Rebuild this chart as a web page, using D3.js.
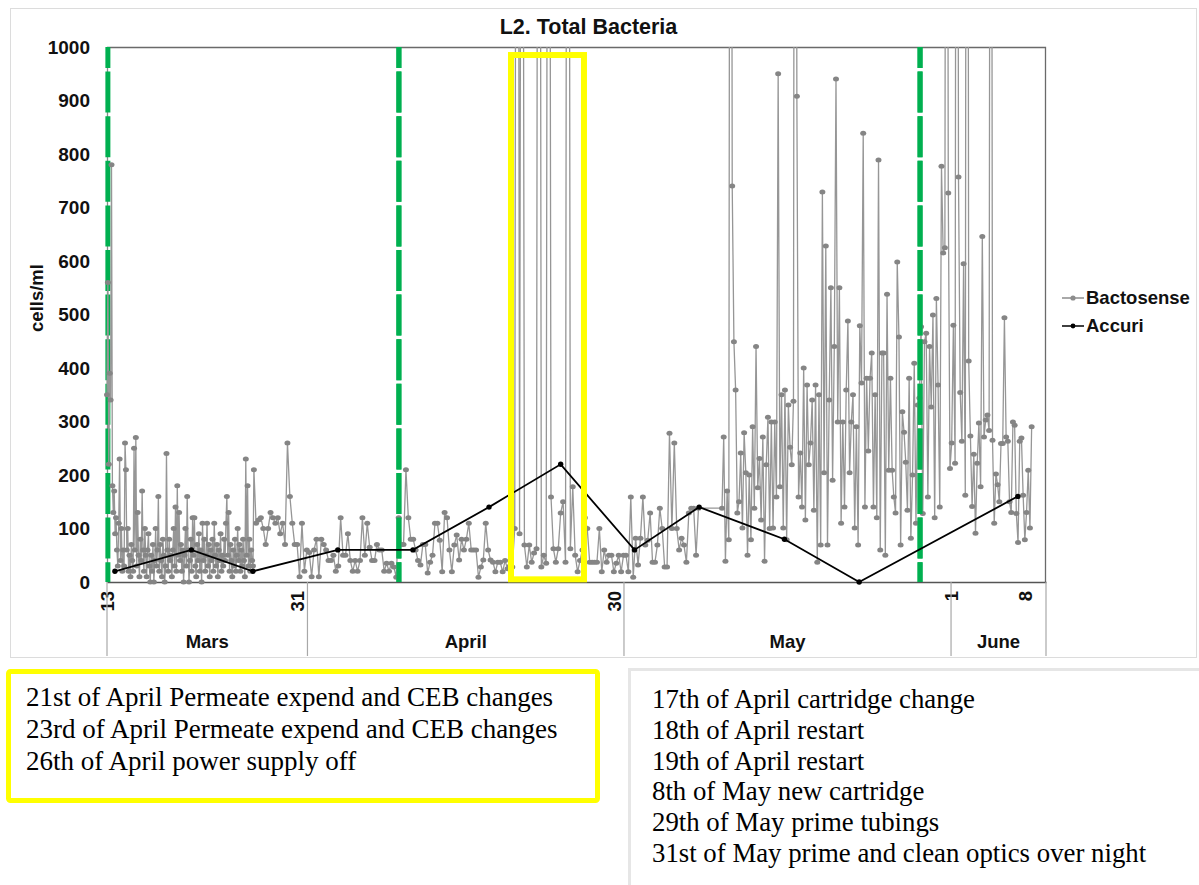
<!DOCTYPE html>
<html>
<head>
<meta charset="utf-8">
<script src="https://cdn.jsdelivr.net/npm/d3@7/dist/d3.min.js"></script>
<style>
  body { margin: 0; background: #ffffff; }
  svg { display: block; }
</style>
</head>
<body>
<svg id="chart" width="1199" height="885"></svg>
<script>
// ---------- data ----------
const chartTitle = "L2. Total Bacteria";
const yAxisTitle = "cells/ml";
const yTicks = [0, 100, 200, 300, 400, 500, 600, 700, 800, 900, 1000];

const axisStart = "2019-03-13T00:00";
const axisEnd = "2019-06-10T00:00";
const dayTickDates = ["2019-03-13T00:00", "2019-03-31T00:00", "2019-04-30T00:00", "2019-06-01T00:00", "2019-06-08T00:00"];
const dayTickLabels = ["13", "31", "30", "1", "8"];
const monthBounds = ["2019-03-13T00:00", "2019-04-01T00:00", "2019-05-01T00:00", "2019-06-01T00:00", "2019-06-10T00:00"];
const monthNames = ["Mars", "April", "May", "June"];

// Bactosense online counts, logged at a fixed interval within each run
const bactoMarchStart = "2019-03-13T00:00";
const bactoMarchStepHours = 2.05;
const bactoMarch = [
  350,560,220,390,340,780,180,130,170,90,
  120,60,30,110,230,40,100,20,60,30,
  260,210,60,100,20,50,10,70,40,20,
  250,60,270,30,130,50,10,80,40,170,
  60,20,100,50,10,60,90,30,0,50,
  20,70,0,40,100,30,60,160,20,70,
  40,10,80,50,0,30,240,60,20,80,
  40,50,10,60,100,30,140,20,180,50,
  130,40,70,20,60,0,50,100,30,160,
  60,0,40,80,20,120,50,120,30,10,
  70,40,90,20,60,0,110,40,80,20,
  50,110,30,70,10,60,40,80,20,110,
  50,30,70,10,60,40,90,20,50,30,
  80,40,110,160,50,130,20,70,40,10,
  60,30,80,20,50,100,40,70,20,60,
  30,80,40,10,230,50,180,30,80,20,
  60,40,30,210
];

const bactoAprilStart = "2019-03-27T03:00";
const bactoAprilStepHours = 5.5;
const bactoApril = [
  110,116,120,100,70,100,130,120,110,120,
  90,110,70,260,160,110,70,70,10,110,
  20,60,55,10,60,80,10,80,70,60,
  40,40,50,20,30,120,50,50,90,40,
  20,40,20,40,120,50,110,65,40,40,
  70,60,60,20,35,20,35,28,9,120,
  70,70,210,120,80,80,60,40,32,70,
  70,17,37,50,110,110,78,19,130,120,
  60,19,69,88,41,80,60,80,110,60,
  60,60,9,28,41,110,60,41,37,19,
  37,37,19,40,25,30,28,100,3200,90,
  2800,69,28,69,37,54,62,3500,28,50,
  35,3000,159,62,37,62,129,150,37,3300,
  62,178,50,19,40,60,120,100,37,37,
  37,37,100,19,60,37,50,50,19,35,
  50,19,50,50,19,159,9,82,32,82,
  159,69,78,129,37,37,69,138,100,28,
  28,278,100,260,100,60,82,69,37,129,
  138,138,50,138
];

const bactoMayStart = "2019-05-10T07:00";
const bactoMayStepHours = 3.87;
const bactoMay = [
  138,271,39,170,79,3000,740,449,359,129,
  150,241,101,279,204,50,200,79,290,138,
  440,176,231,116,271,39,219,308,100,299,
  101,299,159,950,178,350,101,359,79,331,
  252,219,338,3200,908,159,241,140,400,116,
  368,219,260,340,134,368,37,350,69,729,
  204,628,69,340,550,190,440,940,299,550,
  110,299,140,359,488,204,299,350,101,290,
  69,479,372,839,140,381,245,381,428,140,
  350,120,789,60,428,428,50,538,209,381,
  209,159,129,598,458,69,318,280,224,134,
  381,82,200,409,110,331,344,477,128,449,
  465,159,440,327,499,120,530,368,140,777,
  615,625,2900,727,212,260,480,222,3100,757,
  354,263,595,162,3400,413,273,141,239,91,
  222,297,178,646,271,303,312,283,2800,265,
  110,202,182,150,259,259,494,271,263,150,
  130,299,293,128,74,263,269,162,79,130,
  209,101,290
];

// Accuri flow cytometer grab samples
const accuriDates = ["2019-03-13T18:00", "2019-03-21T00:00", "2019-03-26T20:00", "2019-04-03T21:00",
  "2019-04-11T00:00", "2019-04-18T05:00", "2019-04-25T00:00", "2019-05-02T00:00",
  "2019-05-08T03:00", "2019-05-16T05:00", "2019-05-23T07:00", "2019-06-07T08:00"];
const accuriValues = [20, 60, 20, 60, 60, 140, 220, 60, 140, 80, 0, 160];

// Maintenance events (green dashed markers)
const eventDates = ["2019-03-13T02:00", "2019-04-09T16:00", "2019-05-29T01:30"];

// Highlighted disturbance window (yellow frame)
const windowDates = ["2019-04-20T07:00", "2019-04-27T05:00"];
const windowValues = [5, 985];

const notesDisturbance = [
  "21st of April Permeate expend and CEB changes",
  "23rd of April Permeate expend and CEB changes",
  "26th of April power supply off"
];
const notesMaintenance = [
  "17th of April cartridge change",
  "18th of April restart",
  "19th of April restart",
  "8th of May new cartridge",
  "29th of May prime tubings",
  "31st of May prime and clean optics over night"
];

// ---------- layout ----------
const parse = d3.timeParse("%Y-%m-%dT%H:%M");
const svg = d3.select("#chart");
const margin = { left: 107, top: 47 };
const plotW = 939, plotH = 535;
const sansBold = "'Liberation Sans', Arial, sans-serif";
const serif = "'Liberation Serif', 'Times New Roman', serif";

const x = d3.scaleTime().domain([parse(axisStart), parse(axisEnd)]).range([0, plotW]);
const y = d3.scaleLinear().domain([0, 1000]).range([plotH, 0]);

function expand(start, stepHours, values) {
  const t0 = parse(start).getTime();
  return values.map((v, i) => ({ date: new Date(t0 + i * stepHours * 3600000), value: v }));
}
const bacto = [].concat(
  expand(bactoMarchStart, bactoMarchStepHours, bactoMarch),
  expand(bactoAprilStart, bactoAprilStepHours, bactoApril),
  expand(bactoMayStart, bactoMayStepHours, bactoMay)
);
const accuri = accuriDates.map((d, i) => ({ date: parse(d), value: accuriValues[i] }));

// outer chart frame
svg.append("rect")
  .attr("x", 10.5).attr("y", 8.5).attr("width", 1186).attr("height", 649)
  .attr("fill", "#fff").attr("stroke", "#dcdcdc").attr("stroke-width", 1);

// title
svg.append("text")
  .attr("x", margin.left + plotW / 2 + 12).attr("y", 34)
  .attr("text-anchor", "middle")
  .attr("font-family", sansBold).attr("font-weight", "bold").attr("font-size", 21.5)
  .attr("fill", "#111").text(chartTitle);

const g = svg.append("g").attr("transform", `translate(${margin.left},${margin.top})`);

svg.append("defs").append("clipPath").attr("id", "plotClip")
  .append("rect").attr("x", -4).attr("y", 0).attr("width", plotW + 4).attr("height", plotH + 4);

// plot frame (top/right)
g.append("path")
  .attr("d", `M0,0.5H${plotW - 0.5}V${plotH}`)
  .attr("fill", "none").attr("stroke", "#6a6a6a").attr("stroke-width", 1.3);

// y axis
const yAxis = g.append("g")
  .call(d3.axisLeft(y).tickValues(yTicks).tickFormat(d3.format("d")).tickSize(0).tickPadding(17));
yAxis.select(".domain").attr("stroke", "#8a8a8a").attr("stroke-width", 1.3);
yAxis.selectAll("text")
  .attr("font-family", sansBold).attr("font-weight", "bold").attr("font-size", 19).attr("fill", "#111");

svg.append("text")
  .attr("transform", `translate(43,298) rotate(-90)`)
  .attr("text-anchor", "middle")
  .attr("font-family", sansBold).attr("font-weight", "bold").attr("font-size", 18.5)
  .attr("fill", "#111").text(yAxisTitle);

// x axis with day ticks
const xAxis = g.append("g").attr("transform", `translate(0,${plotH})`)
  .call(d3.axisBottom(x).tickValues(dayTickDates.map(parse))
    .tickFormat((d, i) => dayTickLabels[i]).tickSize(0));
xAxis.select(".domain").attr("stroke", "#555").attr("stroke-width", 1.4);
xAxis.selectAll("text")
  .attr("transform", "rotate(-90)")
  .attr("text-anchor", "end")
  .attr("x", -9).attr("y", 0).attr("dy", "0.36em")
  .attr("font-family", sansBold).attr("font-weight", "bold").attr("font-size", 18.5).attr("fill", "#111");

// month separators and month labels
const bounds = monthBounds.map(parse);
g.selectAll("line.month-sep").data(bounds).join("line")
  .attr("class", "month-sep")
  .attr("x1", d => x(d)).attr("x2", d => x(d))
  .attr("y1", plotH).attr("y2", plotH + 74)
  .attr("stroke", "#a8a8a8").attr("stroke-width", 1.2);
g.selectAll("text.month").data(monthNames).join("text")
  .attr("class", "month")
  .attr("x", (d, i) => (x(bounds[i]) + x(bounds[i + 1])) / 2)
  .attr("y", plotH + 66)
  .attr("text-anchor", "middle")
  .attr("font-family", sansBold).attr("font-weight", "bold").attr("font-size", 18.5)
  .attr("fill", "#111").text(d => d);

// data layer
const plot = g.append("g").attr("clip-path", "url(#plotClip)");

const line = d3.line().x(d => x(d.date)).y(d => y(d.value));

// maintenance event markers
plot.selectAll("line.event").data(eventDates.map(parse)).join("line")
  .attr("class", "event")
  .attr("x1", d => x(d)).attr("x2", d => x(d))
  .attr("y1", 0).attr("y2", plotH)
  .attr("stroke", "#00b050").attr("stroke-width", 5)
  .attr("stroke-dasharray", "41 3.6").attr("stroke-dashoffset", 20);

plot.append("path").datum(bacto)
  .attr("d", line).attr("fill", "none")
  .attr("stroke", "#969696").attr("stroke-width", 1.3);
plot.selectAll("ellipse.bacto").data(bacto).join("ellipse")
  .attr("class", "bacto")
  .attr("cx", d => x(d.date)).attr("cy", d => y(d.value))
  .attr("rx", 3).attr("ry", 2.5).attr("fill", "#858585");

// markers redrawn over the dense traces in May/June
plot.selectAll("line.event-top").data(eventDates.map(parse).slice(1)).join("line")
  .attr("class", "event-top")
  .attr("x1", d => x(d)).attr("x2", d => x(d))
  .attr("y1", 0).attr("y2", plotH)
  .attr("stroke", "#00b050").attr("stroke-width", 5)
  .attr("stroke-dasharray", "41 3.6").attr("stroke-dashoffset", 20);

plot.append("path").datum(accuri)
  .attr("d", line).attr("fill", "none")
  .attr("stroke", "#000").attr("stroke-width", 1.8);
g.selectAll("circle.accuri").data(accuri).join("circle")
  .attr("class", "accuri")
  .attr("cx", d => x(d.date)).attr("cy", d => y(d.value))
  .attr("r", 2.7).attr("fill", "#000");

// disturbance window
const wx0 = x(parse(windowDates[0])), wx1 = x(parse(windowDates[1]));
const wy0 = y(windowValues[1]), wy1 = y(windowValues[0]);
g.append("rect")
  .attr("x", wx0).attr("y", wy0).attr("width", wx1 - wx0).attr("height", wy1 - wy0)
  .attr("fill", "none").attr("stroke", "#ffff00").attr("stroke-width", 6);

// legend
const legend = svg.append("g").attr("transform", "translate(1062,0)");
const legendItems = [
  { name: "Bactosense", color: "#8c8c8c", y: 298, r: 2.6 },
  { name: "Accuri", color: "#000", y: 326, r: 2.4 }
];
legendItems.forEach(it => {
  legend.append("line").attr("x1", 0).attr("x2", 22).attr("y1", it.y).attr("y2", it.y)
    .attr("stroke", it.color).attr("stroke-width", 1.5);
  legend.append("circle").attr("cx", 11).attr("cy", it.y).attr("r", it.r).attr("fill", it.color);
  legend.append("text").attr("x", 24).attr("y", it.y).attr("dy", "0.35em")
    .attr("font-family", sansBold).attr("font-weight", "bold").attr("font-size", 18.5)
    .attr("fill", "#111").text(it.name);
});

// note boxes
svg.append("rect")
  .attr("x", 8.5).attr("y", 671.5).attr("width", 589).attr("height", 129).attr("rx", 2)
  .attr("fill", "#fff").attr("stroke", "#ffff00").attr("stroke-width", 5);
svg.selectAll("text.note1").data(notesDisturbance).join("text")
  .attr("class", "note1")
  .attr("x", 26).attr("y", (d, i) => 706 + i * 32)
  .attr("font-family", serif).attr("font-size", 27).attr("fill", "#000")
  .text(d => d);

svg.append("rect")
  .attr("x", 629.5).attr("y", 669.5).attr("width", 600).attr("height", 260)
  .attr("fill", "#fff").attr("stroke", "#e6e6e6").attr("stroke-width", 3);
svg.selectAll("text.note2").data(notesMaintenance).join("text")
  .attr("class", "note2")
  .attr("x", 652).attr("y", (d, i) => 708 + i * 30.8)
  .attr("font-family", serif).attr("font-size", 26.8).attr("fill", "#000")
  .text(d => d);
</script>
</body>
</html>
